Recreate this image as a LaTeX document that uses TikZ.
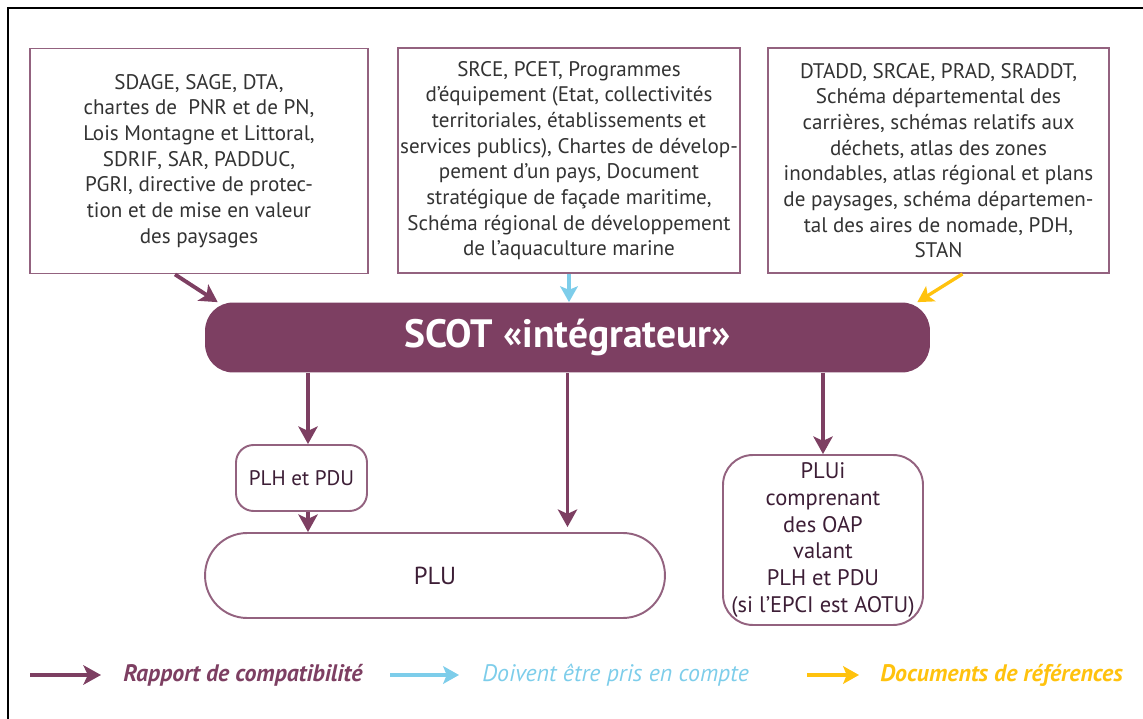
\documentclass[tikz,border=0pt]{standalone}
\usepackage{fontspec}
\setmainfont{PT Sans}
\usetikzlibrary{arrows.meta,calc}
\definecolor{scotpurple}{HTML}{7D3F62}
\definecolor{boxline}{HTML}{93627F}
\definecolor{txtgray}{HTML}{333333}
\definecolor{txtpurple}{HTML}{3D1E36}
\definecolor{refblue}{HTML}{7DCDEA}
\definecolor{refyellow}{HTML}{FFC20E}
\tikzset{
  docbox/.style={draw=boxline, line width=1.1pt, fill=white, minimum height=4.5cm,
    align=center, font=\fontsize{12}{14.6}\selectfont, text=txtgray, inner sep=0pt},
  roundbox/.style={draw=boxline, line width=1.1pt, fill=white, align=center,
    font=\fontsize{12}{14.6}\selectfont, text=txtpurple, inner sep=0pt},
  purplearrow/.style={draw=scotpurple, line width=2.2pt, -{Stealth[length=10pt,width=11pt,inset=2.5pt]}},
  bluearrow/.style={draw=refblue, line width=1.9pt, -{Stealth[length=9pt,width=10pt,inset=2pt]}},
  yellowarrow/.style={draw=refyellow, line width=1.9pt, -{Stealth[length=9pt,width=10pt,inset=2pt]}},
  legtext/.style={anchor=west, inner sep=0pt, font=\fontsize{13.6}{15}\selectfont\itshape}
}
\begin{document}
\begin{tikzpicture}[x=0.02cm,y=-0.02cm]
\useasboundingbox (0,0) rectangle (1143,719);
\draw[line width=1.4pt, black] (8,719) -- (8,8) -- (1143,8);

\node[docbox, minimum width=6.76cm] (b1) at (199,161)
 {SDAGE, SAGE, DTA,\\ chartes de\ \ PNR et de PN,\\ Lois Montagne et Littoral,\\ SDRIF, SAR, PADDUC,\\ PGRI, directive de protec-\\ tion et de mise en valeur\\ des paysages};
\node[docbox, minimum width=6.84cm] (b2) at (569,160.5)
 {SRCE, PCET, Programmes\\ d’équipement (Etat, collectivités\\ territoriales, établissements et\\ services publics), Chartes de dévelop-\\ pement d’un pays, Document\\ stratégique de façade maritime,\\ Schéma régional de développement\\ de l’aquaculture marine};
\node[docbox, minimum width=6.82cm] (b3) at (938.5,160.5)
 {DTADD, SRCAE, PRAD, SRADDT,\\ Schéma départemental des\\ carrières, schémas relatifs aux\\ déchets, atlas des zones\\ inondables, atlas régional et plans\\ de paysages, schéma départemen-\\ tal des aires de nomade, PDH,\\ STAN};

\node[fill=scotpurple, rounded corners=16pt, minimum width=14.5cm, minimum height=1.4cm,
  text=white, font=\fontsize{22.5}{26}\selectfont\bfseries, inner sep=0pt] (scot) at (567.5,337.5)
  {SCOT «intégrateur»};

\node[roundbox, rounded corners=10pt, minimum width=2.62cm, minimum height=1.32cm] (plh) at (301.5,478) {PLH et PDU};
\node[roundbox, rounded corners=24pt, minimum width=9.2cm, minimum height=1.7cm,
  font=\fontsize{14}{16}\selectfont] (plu) at (435,575.5) {PLU};
\node[roundbox, rounded corners=17pt, minimum width=4cm, minimum height=3.4cm,
  font=\fontsize{12.8}{15.2}\selectfont] (plui) at (823,540)
  {PLUi\\ comprenant\\ des OAP\\ valant\\ PLH et PDU\\ (si l’EPCI est AOTU)};

\draw[purplearrow] ([xshift=-0.48cm]b1.south) -- ([xshift=0.26cm]scot.north west);
\draw[bluearrow] (b2.south) -- (b2.south |- scot.north);
\draw[yellowarrow] ([xshift=0.48cm]b3.south) -- ([xshift=-0.26cm]scot.north east);

\draw[purplearrow] ([xshift=0.13cm]plh.north |- scot.south) -- ([xshift=0.13cm]plh.north);
\draw[purplearrow] ([xshift=0.13cm]plh.south) -- ([xshift=0.13cm]plh.south |- plu.north);
\draw[purplearrow] (scot.south) -- ([yshift=0.1cm]scot.south |- plu.north);
\draw[purplearrow] (plui.north |- scot.south) -- (plui.north);

% legend
\node[legtext, text=scotpurple, font=\fontsize{13.6}{15}\selectfont\bfseries\itshape] (l1) at (123,675) {Rapport de compatibilité};
\node[legtext, text=refblue] (l2) at (482,675) {Doivent être pris en compte};
\node[legtext, text=refyellow, font=\fontsize{13.6}{15}\selectfont\bfseries\itshape] (l3) at (880,675) {Documents de références};
\coordinate (s1) at (30,675);
\coordinate (s2) at (390,675);
\coordinate (s3) at (807,675);
\draw[purplearrow, line width=2.8pt] (s1) -- ([xshift=-0.44cm]l1.west);
\draw[bluearrow, line width=2.8pt] (s2) -- ([xshift=-0.46cm]l2.west);
\draw[yellowarrow, line width=2.8pt] (s3) -- ([xshift=-0.42cm]l3.west);
\end{tikzpicture}
\end{document}
